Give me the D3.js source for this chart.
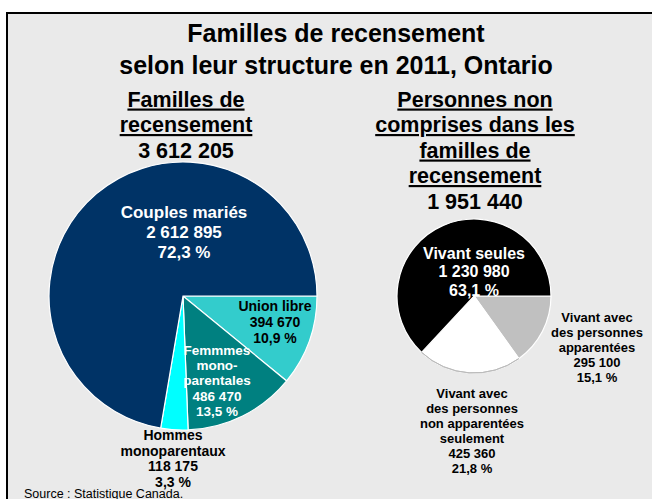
<!DOCTYPE html>
<html>
<head>
<meta charset="utf-8">
<script src="https://cdn.jsdelivr.net/npm/d3@7"></script>
<style>
  body { margin: 0; background: #fff; }
  svg { display: block; font-family: Arial, "Liberation Sans", sans-serif; }
</style>
</head>
<body>
<div id="chart"></div>
<script>
// familles de recensement (ordre horaire depuis 3 h)
var familyLines = [["Union libre"], ["Femmmes", "mono-", "parentales"], ["Hommes", "monoparentaux"], ["Couples mariés"]];
var familyValues = [394670, 486470, 118175, 2612895];
var familyValueText = ["394 670", "486 470", "118 175", "2 612 895"];
var familyPercents = ["10,9 %", "13,5 %", "3,3 %", "72,3 %"];
var familyColors = ["#33CCCC", "#008080", "#00FFFF", "#003366"];

// personnes non comprises dans les familles
var personLines = [["Vivant avec", "des personnes", "apparentées"], ["Vivant avec", "des personnes", "non apparentées", "seulement"], ["Vivant seules"]];
var personValues = [295100, 425360, 1230980];
var personValueText = ["295 100", "425 360", "1 230 980"];
var personPercents = ["15,1 %", "21,8 %", "63,1 %"];
var personColors = ["#C0C0C0", "#FFFFFF", "#000000"];

var titleLines = ["Familles de recensement", "selon leur structure en 2011, Ontario"];
var leftHeading = ["Familles de", "recensement"];
var leftTotal = "3 612 205";
var rightHeading = ["Personnes non", "comprises dans les", "familles de", "recensement"];
var rightTotal = "1 951 440";

var width = 652, height = 499;

var svg = d3.select("#chart").append("svg")
    .attr("width", width)
    .attr("height", height);

// cadre
svg.append("rect")
    .attr("x", 7).attr("y", 13)
    .attr("width", 700).attr("height", 520)
    .attr("fill", "#EAEAEA")
    .attr("stroke", "#000")
    .attr("stroke-width", 2);

// titre
svg.append("g").selectAll("text")
  .data(titleLines)
  .join("text")
    .attr("x", 336)
    .attr("y", (d, i) => 33 + i * 32)
    .attr("dy", "0.35em")
    .attr("text-anchor", "middle")
    .style("font-size", "25px")
    .style("font-weight", "bold")
    .text(d => d);

function heading(cx, lines, total) {
  var g = svg.append("g");
  g.selectAll("text.h")
    .data(lines)
    .join("text")
      .attr("class", "h")
      .attr("x", cx)
      .attr("y", (d, i) => 99 + i * 25.5)
      .attr("dy", "0.35em")
      .attr("text-anchor", "middle")
      .style("font-size", "21.5px")
      .style("font-weight", "bold")
      .style("text-decoration", "underline")
      .text(d => d);
  g.append("text")
      .attr("x", cx)
      .attr("y", 99 + lines.length * 25.5)
      .attr("dy", "0.35em")
      .attr("text-anchor", "middle")
      .style("font-size", "21.5px")
      .style("font-weight", "bold")
      .text(total);
}
heading(186, leftHeading, leftTotal);
heading(475, rightHeading, rightTotal);

function drawPie(cx, cy, r, values, colors) {
  var pie = d3.pie().sort(null)
      .startAngle(Math.PI / 2)
      .endAngle(Math.PI / 2 + 2 * Math.PI);
  var arc = d3.arc().innerRadius(0).outerRadius(r);
  var g = svg.append("g").attr("transform", "translate(" + cx + "," + cy + ")");
  g.selectAll("path")
    .data(pie(values))
    .join("path")
      .attr("d", arc)
      .attr("fill", (d, i) => colors[i])
      .attr("stroke", "#fff")
      .attr("stroke-width", 1.2);
  return g;
}

function drawLabel(g, lines, valueText, pct, opt) {
  var all = lines.concat([valueText, pct]);
  var y0 = opt.dy - (all.length - 1) * opt.lh / 2;
  g.append("g").selectAll("text")
    .data(all)
    .join("text")
      .attr("x", opt.dx)
      .attr("y", (d, i) => y0 + i * opt.lh)
      .attr("dy", "0.35em")
      .attr("text-anchor", "middle")
      .attr("fill", opt.color)
      .style("font-size", opt.size + "px")
      .style("font-weight", "bold")
      .text(d => d);
}

// placement des étiquettes par rapport au centre de chaque tarte
var familyLabelPos = [
  {dx: 92, dy: 26, lh: 16, size: 14, color: "#000"},
  {dx: 34, dy: 84.5, lh: 15.3, size: 13.5, color: "#fff"},
  {dx: -10, dy: 162.5, lh: 15.5, size: 14, color: "#000"},
  {dx: 1, dy: -64, lh: 20, size: 17, color: "#fff"}
];
var personLabelPos = [
  {dx: 123, dy: 51.5, lh: 15.2, size: 13, color: "#000"},
  {dx: -2, dy: 134.5, lh: 15, size: 13, color: "#000"},
  {dx: 0, dy: -24.5, lh: 18.5, size: 16, color: "#fff"}
];

var leftPie = drawPie(183, 296, 134, familyValues, familyColors);
var rightPie = drawPie(474, 296, 77, personValues, personColors);

// contour gris léger autour de la part blanche
rightPie.append("path")
    .attr("d", d3.arc().innerRadius(77).outerRadius(77)(d3.pie().sort(null)
        .startAngle(Math.PI / 2).endAngle(Math.PI / 2 + 2 * Math.PI)(personValues)[1]))
    .attr("fill", "none")
    .attr("stroke", "#BBBBBB")
    .attr("stroke-width", 1);

familyLines.forEach((lines, i) => drawLabel(leftPie, lines, familyValueText[i], familyPercents[i], familyLabelPos[i]));
personLines.forEach((lines, i) => drawLabel(rightPie, lines, personValueText[i], personPercents[i], personLabelPos[i]));

// source
svg.append("text")
    .attr("x", 24)
    .attr("y", 498)
    .style("font-size", "12.5px")
    .text("Source : Statistique Canada.");
</script>
</body>
</html>
